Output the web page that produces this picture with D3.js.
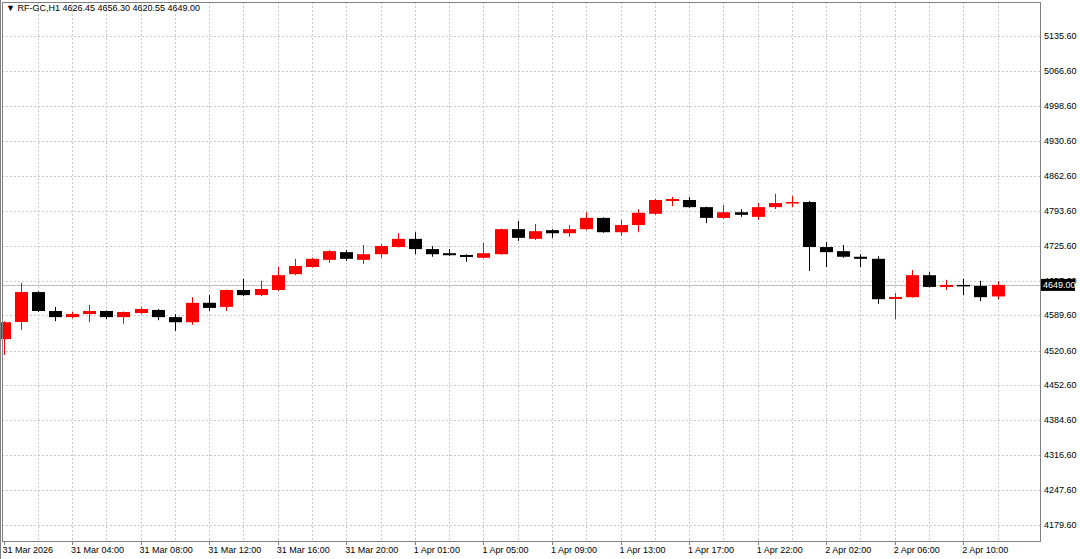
<!DOCTYPE html>
<html><head><meta charset="utf-8">
<script src="https://cdn.jsdelivr.net/npm/d3@7"></script>
<style>body{margin:0;background:#fff}svg{display:block}text{font-family:"Liberation Sans",Arial,sans-serif;font-size:9px;fill:#000}</style>
</head><body><svg id="c" width="1080" height="559"></svg>
<script>
const opens  = [4543,4576.5,4635,4598,4586,4592,4598,4586,4594,4600,4586,4576,4614,4606,4639,4629,4639,4670,4684,4698,4713,4698,4709,4723,4739,4719,4711,4707.5,4702,4709,4758,4739,4756,4750,4758,4780,4752,4766,4788,4813,4815,4801,4780,4791,4782,4801,4809,4811,4723,4715,4704,4700,4621.5,4625,4668,4645,4649,4647,4626.45];
const highs  = [4578,4653,4637,4606,4596,4610,4599,4597,4606,4602,4592,4625,4629,4640,4661,4657,4684,4700,4702,4717,4717,4727,4729,4750,4752,4725,4719,4709,4731,4759,4774,4768,4758,4766,4791,4781,4776,4797,4817,4821,4821,4802,4805,4797,4809,4827,4823,4813,4733,4727,4709,4705,4633,4678,4674,4659,4661,4657,4656.3];
const lows   = [4512,4561,4596,4578,4584,4576,4582,4573,4592,4580,4559,4571,4598,4598,4627,4627,4637,4668,4683,4692,4696,4690,4702,4722,4709,4704,4706,4694,4701,4708,4735,4737,4741,4743,4756,4751,4745,4752,4786,4803,4799,4770,4778,4782,4776,4797,4801,4676,4684,4702,4684,4612,4582,4624,4644,4639,4629,4617,4620.55];
const closes = [4576,4635,4598,4586,4592,4598,4586,4596,4602,4586,4576,4614,4604,4639,4629,4641,4668,4686,4700,4715,4700,4709,4725,4739,4719,4709,4707,4703.6,4711,4758,4741,4754,4750,4758,4780,4752,4766,4790,4815,4817,4801,4780,4791,4786,4801,4809,4811,4723,4713,4704,4700,4621,4625.4,4668,4645,4649,4647,4625,4649];
const priceTicks = [5135.60,5066.60,4998.60,4930.60,4862.60,4793.60,4725.60,4657.60,4589.60,4520.60,4452.60,4384.60,4316.60,4247.60,4179.60];
const timeLabels = ["31 Mar 2026","31 Mar 04:00","31 Mar 08:00","31 Mar 12:00","31 Mar 16:00","31 Mar 20:00","1 Apr 01:00","1 Apr 05:00","1 Apr 09:00","1 Apr 13:00","1 Apr 17:00","1 Apr 22:00","2 Apr 02:00","2 Apr 06:00","2 Apr 10:00"];
const lastPrice = 4649.00;

const svg = d3.select("#c");
const L=2, R=1040, T=2, B=541;
const y = d3.scaleLinear().domain([4179.6,5135.6]).range([525,36]);
const x = d3.scaleLinear().domain([0,58]).range([3.5,997.6]);
const g = svg.append("g");
// grid
g.selectAll(".hg").data(priceTicks).join("line").attr("x1",L).attr("x2",R)
 .attr("y1",d=>Math.round(y(d))+.5).attr("y2",d=>Math.round(y(d))+.5)
 .attr("stroke","#c8c8c8").attr("stroke-dasharray","2,2");
const vIdx = d3.range(2,59,2);
g.selectAll(".vg").data(vIdx).join("line").attr("y1",T).attr("y2",B)
 .attr("x1",d=>Math.round(x(d))+.5).attr("x2",d=>Math.round(x(d))+.5)
 .attr("stroke","#c8c8c8").attr("stroke-dasharray","2,2");
// last price line
g.append("line").attr("x1",L).attr("x2",R).attr("y1",Math.round(y(lastPrice))+.5).attr("y2",Math.round(y(lastPrice))+.5).attr("stroke","#c0c0c0");
// candles
const data = opens.map((o,i)=>({i,o,h:highs[i],l:lows[i],c:closes[i]}));
const col = d=>d.c>=d.o?"#ff0000":"#000000";
const cg = g.selectAll(".cd").data(data).join("g");
cg.append("line").attr("x1",d=>Math.round(x(d.i))+.5).attr("x2",d=>Math.round(x(d.i))+.5)
 .attr("y1",d=>y(d.h)).attr("y2",d=>y(d.l)).attr("stroke",col);
cg.append("rect").attr("x",d=>Math.round(x(d.i))-6).attr("width",13)
 .attr("y",d=>y(Math.max(d.o,d.c))).attr("height",d=>Math.max(1.5,Math.abs(y(d.o)-y(d.c)))).attr("fill",col);
// frame
svg.append("rect").attr("x",L+.5).attr("y",T+.5).attr("width",R-L).attr("height",B-T).attr("fill","none").attr("stroke","#808080");
svg.append("line").attr("x1",0.5).attr("x2",0.5).attr("y1",0).attr("y2",559).attr("stroke","#808080");
// axes labels
svg.selectAll(".yl").data(priceTicks).join("text").attr("x",1044).attr("y",d=>y(d)+3).text(d=>d.toFixed(2));
svg.selectAll(".xl").data(timeLabels).join("text").attr("x",(d,k)=>x(k*4)-1).attr("y",553).text(d=>d);
svg.selectAll(".xt").data(timeLabels).join("line").attr("x1",(d,k)=>Math.round(x(k*4))+.5).attr("x2",(d,k)=>Math.round(x(k*4))+.5).attr("y1",B).attr("y2",B+4).attr("stroke","#808080");
// price tag
const py=y(lastPrice);
svg.append("rect").attr("x",1041).attr("y",py-6).attr("width",34).attr("height",12).attr("fill","#000");
svg.append("text").attr("x",1043).attr("y",py+3.5).style("fill","#fff").text(lastPrice.toFixed(2));
// header
svg.append("text").attr("x",6).attr("y",11).text("▼ RF-GC,H1  "+[opens[58],highs[58],lows[58],closes[58]].map(v=>v.toFixed(2)).join(" "));
</script></body></html>
